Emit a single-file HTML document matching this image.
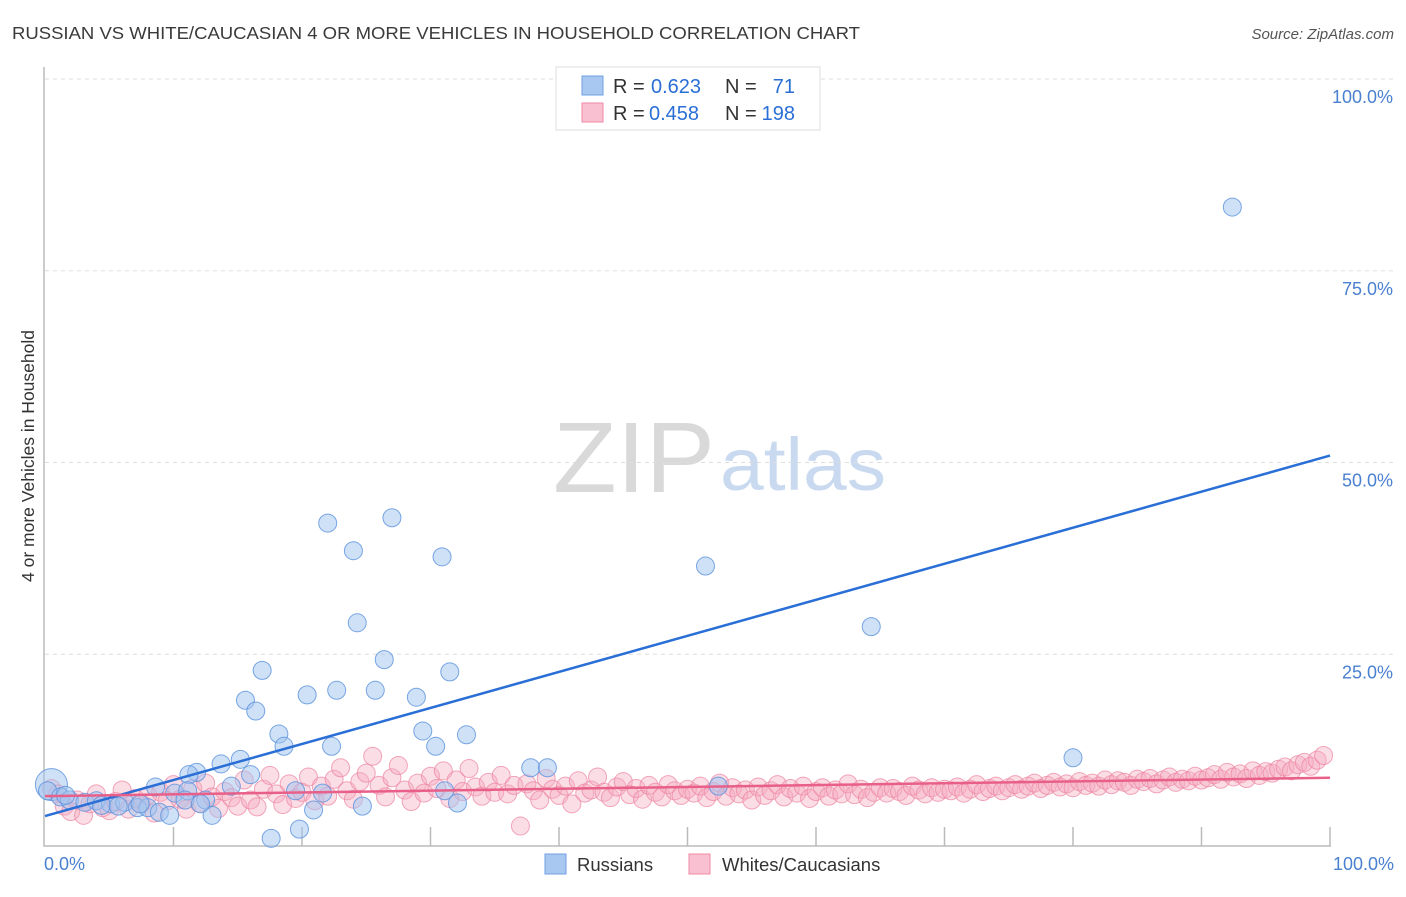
<!DOCTYPE html>
<html><head><meta charset="utf-8"><style>
body{margin:0;background:#fff;font-family:"Liberation Sans",sans-serif}
svg text{font-family:"Liberation Sans",sans-serif}
</style></head><body>
<svg id="chart" width="1406" height="892" xmlns="http://www.w3.org/2000/svg">
<text x="12" y="39" font-size="17.5" fill="#3a3a3a" textLength="848" lengthAdjust="spacingAndGlyphs">RUSSIAN VS WHITE/CAUCASIAN 4 OR MORE VEHICLES IN HOUSEHOLD CORRELATION CHART</text>
<text x="1394" y="39" font-size="15" fill="#555" text-anchor="end" font-style="italic">Source: ZipAtlas.com</text>
<text x="553" y="492" font-size="100" fill="#d9d9d9" font-family="Liberation Serif, serif" textLength="162" lengthAdjust="spacingAndGlyphs">ZIP</text>
<text x="720" y="490" font-size="74" fill="#c9daf0" textLength="166" lengthAdjust="spacingAndGlyphs">atlas</text>
<g id="grid"></g>
<g id="axes"></g>
<g id="pink"></g>
<g id="blue"></g>
<g id="lines"></g>
<text transform="translate(34,456) rotate(-90)" font-size="17.5" fill="#333" text-anchor="middle">4 or more Vehicles in Household</text>
<text x="44" y="870" font-size="18" fill="#4a80d0">0.0%</text>
<text x="1394" y="870" font-size="18" fill="#4a80d0" text-anchor="end">100.0%</text>
<g>
<rect x="556" y="67" width="264" height="63" fill="#fff" stroke="#ddd"/>
<rect x="582" y="76" width="21" height="19" fill="#a8c8f2" stroke="#6fa0e0"/>
<text x="613" y="93" font-size="20" fill="#333">R =</text>
<text x="651" y="93" font-size="20" fill="#2a6fd6">0.623</text>
<text x="725" y="93" font-size="20" fill="#333">N =</text>
<text x="795" y="93" font-size="20" fill="#2a6fd6" text-anchor="end">71</text>
<rect x="582" y="103" width="21" height="19" fill="#f8c0d0" stroke="#f08aa8"/>
<text x="613" y="120" font-size="20" fill="#333">R =</text>
<text x="649" y="120" font-size="20" fill="#2a6fd6">0.458</text>
<text x="725" y="120" font-size="20" fill="#333">N =</text>
<text x="795" y="120" font-size="20" fill="#2a6fd6" text-anchor="end">198</text>
</g>
<g>
<rect x="545" y="854" width="21" height="20" fill="#a8c8f2" stroke="#6fa0e0"/>
<text x="577" y="871" font-size="18.5" fill="#333">Russians</text>
</g>
<g>
<rect x="689" y="854" width="21" height="20" fill="#f8c0d0" stroke="#f08aa8"/>
<text x="722" y="871" font-size="18.5" fill="#333">Whites/Caucasians</text>
</g>
</svg>
<script>
const yTicks=[25,50,75,100];
const yTickLabels=["25.0%","50.0%","75.0%","100.0%"];
const blueX=[92.4,51.4,64.3,27.0,22.0,24.0,30.9,24.3,26.4,16.9,15.6,16.4,18.2,18.6,20.4,22.7,25.7,28.9,31.5,29.4,32.8,30.4,22.3,80.0,37.8,39.1,15.2,13.7,11.8,11.2,8.6,14.5,16.0,52.4,19.5,21.6,10.1,11.1,31.1,12.5,0.5,0.2,1.2,1.9,3.1,4.0,5.1,6.2,7.2,8.0,8.9,9.7,13.0,32.1,20.9,24.7,17.6,19.8,1.6,4.4,5.7,7.4,10.9,12.1];
const blueY=[83.3,36.5,28.6,42.8,42.1,38.5,37.7,29.1,24.3,22.9,19.0,17.6,14.6,13.0,19.7,20.3,20.3,19.4,22.7,15.0,14.5,13.0,13.0,11.5,10.2,10.2,11.3,10.7,9.6,9.3,7.7,7.8,9.3,7.8,7.2,6.9,6.9,7.2,7.2,6.0,8.0,7.2,6.4,6.0,5.7,5.9,5.5,5.7,5.0,5.0,4.4,4.0,4.0,5.6,4.7,5.2,1.0,2.2,6.6,5.3,5.2,5.5,6.0,5.5];
const pinkX=[0.5,1,1.5,2,2.5,3,3.5,4,4.5,5,5.5,6,6.5,7,7.5,8,8.5,9,9.5,10,10.5,11,11.5,12,12.5,13,13.5,14,14.5,15,15.5,16,16.5,17,17.5,18,18.5,19,19.5,20,20.5,21,21.5,22,22.5,23,23.5,24,24.5,25,25.5,26,26.5,27,27.5,28,28.5,29,29.5,30,30.5,31,31.5,32,32.5,33,33.5,34,34.5,35,35.5,36,36.5,37,37.5,38,38.5,39,39.5,40,40.5,41,41.5,42,42.5,43,43.5,44,44.5,45,45.5,46,46.5,47,47.5,48,48.5,49,49.5,50,50.5,51,51.5,52,52.5,53,53.5,54,54.5,55,55.5,56,56.5,57,57.5,58,58.5,59,59.5,60,60.5,61,61.5,62,62.5,63,63.5,64,64.5,65,65.5,66,66.5,67,67.5,68,68.5,69,69.5,70,70.5,71,71.5,72,72.5,73,73.5,74,74.5,75,75.5,76,76.5,77,77.5,78,78.5,79,79.5,80,80.5,81,81.5,82,82.5,83,83.5,84,84.5,85,85.5,86,86.5,87,87.5,88,88.5,89,89.5,90,90.5,91,91.5,92,92.5,93,93.5,94,94.5,95,95.5,96,96.5,97,97.5,98,98.5,99,99.5];
const pinkY=[7.5,6.8,5.2,4.5,6.0,4.0,5.5,6.8,5.0,4.6,5.8,7.3,4.8,6.2,5.5,6.6,4.3,7.0,5.9,8.0,6.1,4.8,7.5,5.6,8.2,6.4,4.9,7.1,6.3,5.2,8.6,6.0,5.1,7.4,9.2,6.8,5.4,8.1,6.2,7.0,9.0,5.9,7.8,6.5,8.7,10.2,7.2,6.1,8.4,9.5,11.7,7.9,6.4,8.9,10.5,7.3,5.8,8.2,6.9,9.1,7.5,9.8,6.2,8.6,7.1,10.1,7.7,6.5,8.3,7.0,9.2,6.8,7.9,2.6,8.1,7.2,6.0,8.8,7.4,6.6,7.8,5.5,8.5,6.9,7.3,9.0,7.0,6.3,7.7,8.4,6.7,7.5,6.1,7.9,7.0,6.4,8.0,7.2,6.6,7.4,6.9,7.8,6.3,7.1,8.2,6.5,7.6,6.8,7.3,6.0,7.7,6.6,7.2,8.0,6.4,7.5,6.9,7.8,6.2,7.1,7.6,6.5,7.3,6.8,8.1,6.7,7.4,6.3,7.0,7.6,6.9,7.5,7.1,6.6,7.8,7.3,6.8,7.6,7.0,7.4,7.2,7.7,6.9,7.4,8.0,7.1,7.5,7.8,7.2,7.6,8.0,7.4,7.8,8.2,7.5,7.9,8.3,7.7,8.1,7.6,8.4,7.9,8.2,7.8,8.6,8.0,8.5,8.3,7.9,8.7,8.4,8.8,8.1,8.6,9.0,8.3,8.7,8.5,9.1,8.6,8.9,9.3,8.7,9.6,9.0,9.4,8.8,9.8,9.2,9.7,9.5,10.0,10.3,9.8,10.6,10.9,10.4,11.2,11.8];
const blueTrend=[3.9,50.9];
const pinkTrend=[6.5,8.9];
const X0=45,X1=1330,Y0=846,Y100=79;
const xs=v=>X0+(X1-X0)*v/100;
const ys=v=>Y0-(Y0-Y100)*v/100;
const NS="http://www.w3.org/2000/svg";
function mk(parent,tag,attrs){const e=document.createElementNS(NS,tag);for(const k in attrs)e.setAttribute(k,attrs[k]);document.getElementById(parent).appendChild(e);return e;}
yTicks.forEach((t,i)=>{
 const g=mk('grid','line',{x1:45,x2:1394,y1:ys(t),y2:ys(t),stroke:'#ddd','stroke-dasharray':'4,4'});
 
 
 const l=mk('grid','text',{x:1393,y:ys(t)+24,'font-size':18,fill:'#4a80d0','text-anchor':'end'});
 l.textContent=yTickLabels[i];
 
 
});
const ax=mk('axes','path',{d:`M44,67 L44,${Y0} L1331,${Y0}`,fill:'none',stroke:'#bbb','stroke-width':1.5});


for(let i=1;i<=10;i++){
 const t=mk('axes','line',{x1:xs(i*10),x2:xs(i*10),y1:827,y2:Y0,stroke:'#bbb','stroke-width':1.5});
 
 
}
pinkX.forEach((x,i)=>{
 const c=mk('pink','circle',{cx:xs(x),cy:ys(pinkY[i]),r:9,fill:'rgba(245,170,192,0.4)',stroke:'rgba(236,130,160,0.7)','stroke-width':1});
 
 
});
blueX.forEach((x,i)=>{
 const c=mk('blue','circle',{cx:xs(x),cy:ys(blueY[i]),r:i===40?16:9,fill:'rgba(160,196,240,0.5)',stroke:'rgba(90,145,220,0.8)','stroke-width':1});
 
 
});
const bl=mk('lines','line',{x1:xs(0),y1:ys(blueTrend[0]),x2:xs(100),y2:ys(blueTrend[1]),stroke:'#2a6fd6','stroke-width':2.5});


const pl=mk('lines','line',{x1:xs(0),y1:ys(pinkTrend[0]),x2:xs(100),y2:ys(pinkTrend[1]),stroke:'#e8608a','stroke-width':2.5});


</script>
</body></html>
